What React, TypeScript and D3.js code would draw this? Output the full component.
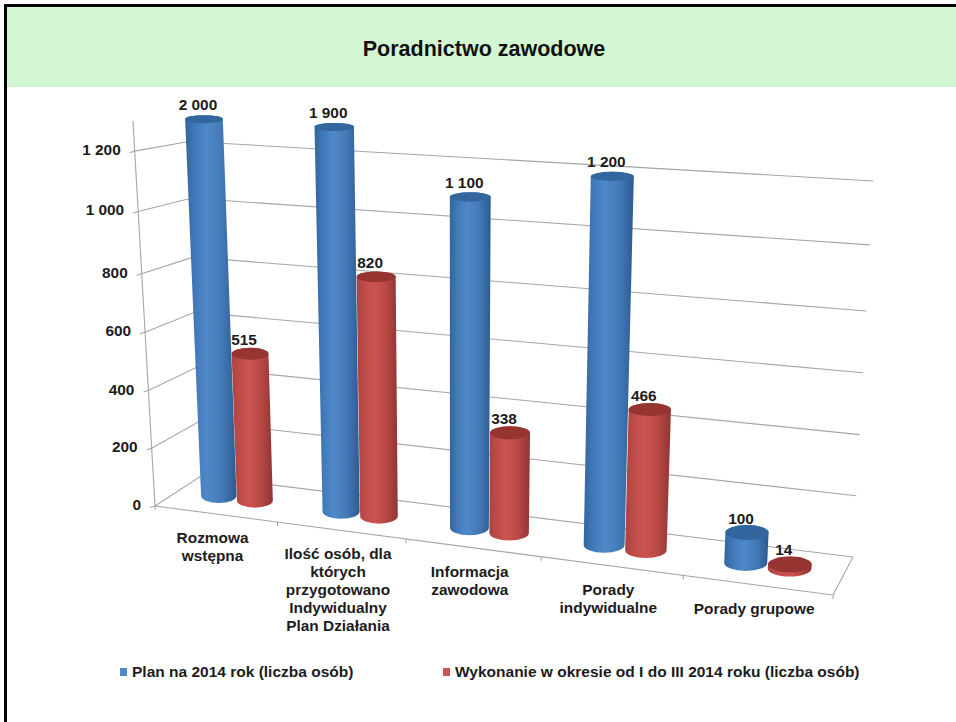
import React from "react";
import * as d3 from "d3";

const categories = ["Rozmowa wstępna", "Ilość osób, dla których przygotowano Indywidualny Plan Działania", "Informacja zawodowa", "Porady indywidualne", "Porady grupowe"];
const categoryLines = [["Rozmowa", "wstępna"], ["Ilość osób, dla", "których", "przygotowano", "Indywidualny", "Plan Działania"], ["Informacja", "zawodowa"], ["Porady", "indywidualne"], ["Porady grupowe"]];
const seriesNames = ["Plan na 2014 rok (liczba osób)", "Wykonanie w okresie od I do III 2014 roku (liczba osób)"];
const planValues = [2000, 1900, 1100, 1200, 100];
const doneValues = [515, 820, 338, 466, 14];
const axisTicks = [0, 200, 400, 600, 800, 1000, 1200];
const axisMax = 1300;

type P = [number, number];
// projected corners of the floor of the 3D plot box
const floorFL: P = [155, 506], floorFR: P = [833, 595], floorBR: P = [853, 557], floorBL: P = [201, 476];
// screen offset of the box top above each floor corner
const liftFL: P = [-22, -385], liftFR: P = [22, -418], liftBR: P = [22, -408], liftBL: P = [-13, -363];

function homography(a: P, b: P, c: P, d: P) {
  const dx1 = b[0] - c[0], dx2 = d[0] - c[0], sx = a[0] - b[0] + c[0] - d[0];
  const dy1 = b[1] - c[1], dy2 = d[1] - c[1], sy = a[1] - b[1] + c[1] - d[1];
  const den = dx1 * dy2 - dx2 * dy1;
  const g = (sx * dy2 - dx2 * sy) / den, h = (dx1 * sy - sx * dy1) / den;
  const A = b[0] - a[0] + g * b[0], B = d[0] - a[0] + h * d[0];
  const D = b[1] - a[1] + g * b[1], E = d[1] - a[1] + h * d[1];
  return (u: number, v: number): P => {
    const w = g * u + h * v + 1;
    return [(A * u + B * v + a[0]) / w, (D * u + E * v + a[1]) / w];
  };
}
const floorMap = homography(floorFL, floorFR, floorBR, floorBL);
const lerp = (a: number, b: number, t: number) => a + (b - a) * t;
const liftAt = (u: number, v: number): P => [0, 1].map((k) =>
  lerp(lerp(liftFL[k], liftFR[k], u), lerp(liftBL[k], liftBR[k], u), v)) as P;
// slight perspective compression of the value axis
const level = d3.scaleLinear().domain([0, 400, 800, 1000, axisMax]).range([0, 0.3, 0.603, 0.765, 1]).clamp(true);
const project = (u: number, v: number, val: number): P => {
  const f = floorMap(u, v), l = liftAt(u, v), w = level(val);
  return [f[0] + l[0] * w, f[1] + l[1] * w];
};

const x0 = d3.scaleBand<number>().domain(d3.range(categories.length)).range([0, 1]);
const x1 = d3.scalePoint<number>().domain([0, 1]).range([-0.002, x0.bandwidth() - 0.002]).padding(1.167);
const radius = x0.bandwidth() * 0.148;
const depth = 0.5;
const ryScale = d3.scaleLinear().domain([120, 530]).range([4, 7.5]);

const FONT = "'Liberation Sans', Arial, sans-serif";
const palette = [
  { id: "gBlue", stops: ["#33659f", "#427ab9", "#4f88c9", "#4479b6", "#2c5a90"], top: "#33659e" },
  { id: "gRed", stops: ["#a94340", "#bf4c49", "#cc5450", "#b84845", "#8f3532"], top: "#953431" },
];

function Cylinder({ i, s, value }: { i: number; s: number; value: number }) {
  const u = x0(i)! + x1(s)!;
  const bC = project(u, depth, 0), tC = project(u, depth, value);
  const rxB = (project(u + radius, depth, 0)[0] - project(u - radius, depth, 0)[0]) / 2;
  const rxT = (project(u + radius, depth, value)[0] - project(u - radius, depth, value)[0]) / 2;
  const ryB = ryScale(bC[1]), ryT = ryScale(tC[1]);
  const pal = palette[s];
  const d = `M${tC[0] - rxT},${tC[1]} L${bC[0] - rxB},${bC[1]} A${rxB},${ryB} 0 0 0 ${bC[0] + rxB},${bC[1]} L${tC[0] + rxT},${tC[1]} A${rxT},${ryT} 0 0 0 ${tC[0] - rxT},${tC[1]} Z`;
  return (
    <g>
      <path d={d} fill={`url(#${pal.id})`} />
      <ellipse cx={tC[0]} cy={tC[1]} rx={rxT} ry={ryT} fill={pal.top} />
    </g>
  );
}

export default function App() {
  const vals = [planValues, doneValues];
  const grey = "#a6a6a6";
  const textColor = "#1c1c1c";
  const fmt = (n: number) => d3.format(",")(n).replace(/,/g, " ");
  return (
    <svg width={956} height={722} style={{ position: "absolute", left: 0, top: 0, background: "#fff" }}>
      <defs>
        {palette.map((p) => (
          <linearGradient key={p.id} id={p.id} x1="0" x2="1" y1="0" y2="0">
            {p.stops.map((c, k) => (
              <stop key={k} offset={[0, 0.2, 0.42, 0.72, 1][k]} stopColor={c} />
            ))}
          </linearGradient>
        ))}
      </defs>
      <rect x={7} y={7} width={949} height={80} fill="#d3f7d3" />
      <rect x={4} y={4} width={952} height={3} fill="#000" />
      <rect x={4} y={4} width={3} height={718} fill="#000" />
      <text x={484} y={56} textAnchor="middle" fontFamily={FONT} fontWeight="bold" fontSize={21.5} fill="#111">Poradnictwo zawodowe</text>

      {axisTicks.map((t) => {
        const a = project(0, 0, t), b = project(0, 1, t), c = project(1, 1, t);
        return <path key={t} d={`M${a[0] - 5},${a[1] + 1.5} L${a[0]},${a[1]} L${b[0]},${b[1]} L${c[0]},${c[1]}`} fill="none" stroke={grey} strokeWidth={1.1} />;
      })}
      <path d={`M${project(0, 0, axisMax).join(",")} L${project(0, 0, 0).join(",")}`} stroke={grey} strokeWidth={1.1} fill="none" />
      <path d={`M${project(0, 0, 0).join(",")} L${project(1, 0, 0).join(",")} L${project(1, 1, 0).join(",")}`} stroke={grey} strokeWidth={1.1} fill="none" />
      {d3.range(categories.length + 1).map((i) => {
        const p = project(i / categories.length, 0, 0);
        return <line key={i} x1={p[0]} y1={p[1]} x2={p[0]} y2={p[1] + 4} stroke={grey} strokeWidth={1.1} />;
      })}

      {axisTicks.map((t) => {
        const a = project(0, 0, t);
        return (
          <text key={t} x={a[0] - 14} y={a[1] + 4} textAnchor="end" fontFamily={FONT} fontWeight="bold" fontSize={15.4} fill={textColor}>
            {fmt(t)}
          </text>
        );
      })}

      {categories.map((_, i) => (
        <g key={i}>
          <Cylinder i={i} s={0} value={planValues[i]} />
          <Cylinder i={i} s={1} value={doneValues[i]} />
        </g>
      ))}

      {categories.map((_, i) =>
        vals.map((arr, s) => {
          const p = project(x0(i)! + x1(s)!, depth, arr[i]);
          return (
            <text key={`${i}-${s}`} x={p[0] - 6} y={p[1] - 9} textAnchor="middle" fontFamily={FONT} fontWeight="bold" fontSize={15.4} fill={textColor}>
              {fmt(arr[i])}
            </text>
          );
        })
      )}

      {categoryLines.map((lines, i) => {
        const p = project(x0(i)! + x0.bandwidth() / 2, 0, 0);
        return (
          <text key={i} textAnchor="middle" fontFamily={FONT} fontWeight="bold" fontSize={15.4} fill={textColor}>
            {lines.map((l, k) => (
              <tspan key={k} x={p[0] - 3} y={p[1] + 29 + k * 17.8}>{l}</tspan>
            ))}
          </text>
        );
      })}

      {seriesNames.map((n, s) => {
        const xs = [120, 443][s];
        return (
          <g key={n}>
            <rect x={xs} y={668} width={7} height={8} fill={palette[s].stops[2]} />
            <text x={xs + 12} y={677} fontFamily={FONT} fontWeight="bold" fontSize={15.5} fill={textColor}>{n}</text>
          </g>
        );
      })}
    </svg>
  );
}
